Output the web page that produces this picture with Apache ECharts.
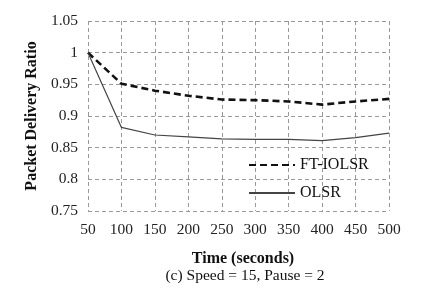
<!DOCTYPE html>
<html>
<head>
<meta charset="utf-8">
<script src="https://cdn.jsdelivr.net/npm/echarts@6/dist/echarts.min.js"></script>
<style>
html,body{margin:0;padding:0;background:#fff;}
#main{width:423px;height:288px;}
</style>
</head>
<body>
<div id="main"></div>
<script>
var times = [50, 100, 150, 200, 250, 300, 350, 400, 450, 500];
var ftIolsr = [1.0, 0.951, 0.940, 0.932, 0.926, 0.925, 0.923, 0.918, 0.923, 0.927];
var olsr = [1.0, 0.882, 0.870, 0.867, 0.864, 0.863, 0.863, 0.861, 0.866, 0.873];

function pairs(vals){
    var out = [];
    for (var i = 0; i < times.length; i++) out.push([times[i], vals[i]]);
    return out;
}

var dom = document.getElementById('main');
var myChart = echarts.init(dom);
var font = 'Liberation Serif';
var gridLine = {show: true, lineStyle: {color: '#999', type: [4, 3], width: 1}};

var option = {
    animation: false,
    textStyle: {fontFamily: font},
    grid: {left: 88, right: 34, top: 21, bottom: 77},
    title: [
        {
            text: 'Time (seconds)',
            left: 238, top: 246, textAlign: 'center',
            textStyle: {fontFamily: font, fontSize: 16, fontWeight: 'bold', color: '#111'}
        },
        {
            text: '(c) Speed = 15, Pause = 2',
            left: 240, top: 263, textAlign: 'center',
            textStyle: {fontFamily: font, fontSize: 15.5, fontWeight: 'normal', color: '#111'}
        }
    ],
    legend: {
        left: 243, top: 152, orient: 'vertical', itemGap: 12,
        itemWidth: 46, itemHeight: 16,
        itemStyle: {color: 'transparent', borderColor: 'transparent', borderWidth: 0, opacity: 0},
        textStyle: {fontFamily: font, fontSize: 16, color: '#111'},
        data: ['FT-IOLSR', 'OLSR']
    },
    xAxis: {
        type: 'value', min: 50, max: 500, interval: 50,
        axisLine: {show: false}, axisTick: {show: false},
        splitLine: gridLine,
        axisLabel: {fontFamily: font, fontSize: 15.5, color: '#222', margin: 11}
    },
    yAxis: {
        type: 'value', min: 0.75, max: 1.05, interval: 0.05,
        name: 'Packet Delivery Ratio', nameLocation: 'middle', nameGap: 44,
        nameTextStyle: {fontFamily: font, fontSize: 16, fontWeight: 'bold', color: '#111'},
        axisLine: {show: false}, axisTick: {show: false},
        splitLine: gridLine,
        axisLabel: {fontFamily: font, fontSize: 15.5, color: '#222', margin: 10,
            formatter: function(v){ return String(Math.round(v * 100) / 100); }}
    },
    series: [
        {
            name: 'FT-IOLSR', type: 'line', data: pairs(ftIolsr), symbol: 'none',
            lineStyle: {color: '#111', width: 2.6, type: [7, 4]},
            itemStyle: {color: '#111'}
        },
        {
            name: 'OLSR', type: 'line', data: pairs(olsr), symbol: 'none',
            lineStyle: {color: '#444', width: 1.2},
            itemStyle: {color: '#444'}
        }
    ]
};
myChart.setOption(option);
</script>
</body>
</html>
